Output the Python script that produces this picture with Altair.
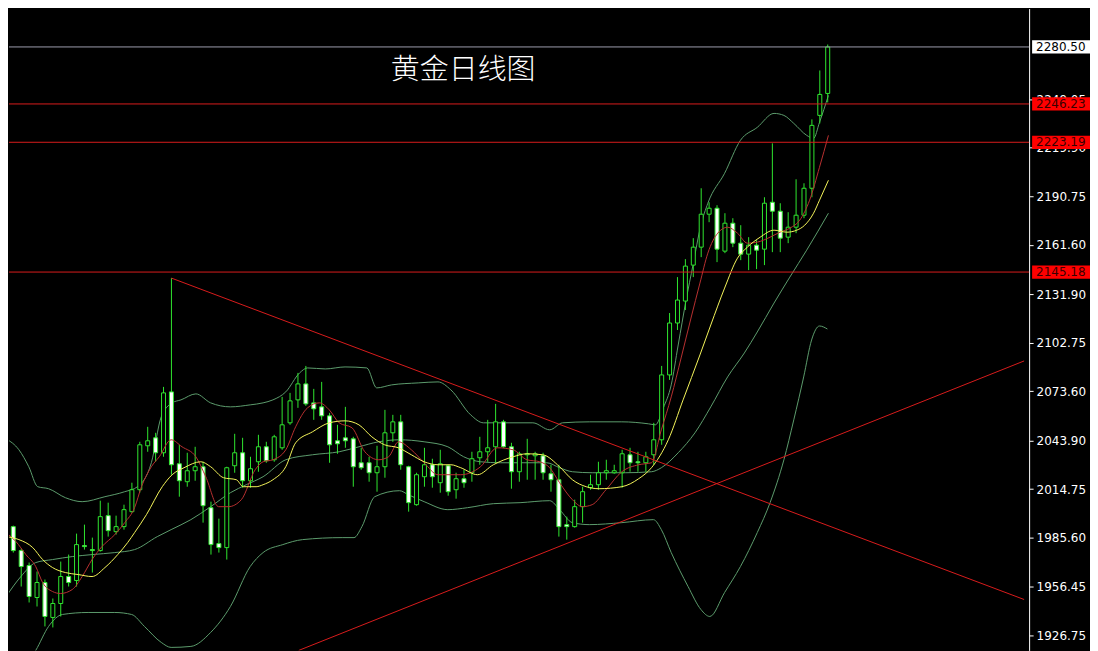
import altair as alt
import pandas as pd

# ---------------- data ----------------
CANDLE_IDX = list(range(-1, 104))
OPEN = [1992.15, 1992.15, 1977.75, 1968.75, 1949.55, 1958.55, 1937.55, 1945.95, 1962.15, 1959.75,
        1980.75, 1978.35, 1977.75, 1998.75, 1989.15, 1992.15, 2001.15, 2014.35, 2040.75, 2045.55,
        2036.55, 2073.15, 2029.95, 2019.15, 2025.75, 2028.15, 2003.55, 1981.95, 1979.55, 2028.75,
        2036.55, 2019.75, 2031.15, 2040.15, 2032.35, 2039.55, 2054.55, 2068.35, 2077.95, 2066.55,
        2064.15, 2058.75, 2043.75, 2045.55, 2044.95, 2030.55, 2030.55, 2024.55, 2028.15, 2048.55,
        2055.15, 2028.15, 2005.35, 2022.15, 2029.35, 2018.55, 2028.75, 2014.35, 2020.95, 2024.55,
        2033.55, 2037.15, 2040.15, 2055.15, 2040.15, 2025.15, 2035.35, 2034.75, 2034.75, 2023.95,
        2020.35, 1993.35, 1992.15, 2004.15, 2015.55, 2017.35, 2024.55, 2024.55, 2024.55, 2035.35,
        2031.15, 2030.55, 2035.35, 2044.35, 2083.35, 2114.55, 2127.75, 2149.35, 2160.15, 2179.95,
        2183.55, 2157.75, 2174.55, 2162.55, 2155.95, 2161.35, 2158.95, 2187.15, 2181.75, 2166.15,
        2172.15, 2179.35, 2195.55, 2239.35, 2252.55]
CLOSE = [1984.35, 1977.75, 1968.15, 1950.15, 1958.55, 1938.15, 1945.95, 1962.15, 1958.55, 1981.35,
         1980.15, 1977.75, 1998.15, 1989.75, 1992.15, 2002.35, 2014.35, 2041.35, 2043.75, 2036.55,
         2072.55, 2029.35, 2019.75, 2025.75, 2028.15, 2004.75, 1981.35, 1979.55, 2027.55, 2036.55,
         2019.75, 2026.95, 2040.15, 2031.75, 2046.15, 2053.35, 2067.75, 2077.95, 2065.95, 2062.95,
         2058.75, 2041.35, 2041.95, 2043.75, 2028.15, 2027.55, 2024.55, 2028.15, 2048.55, 2055.15,
         2029.35, 2006.55, 2023.35, 2029.35, 2022.15, 2029.95, 2013.15, 2020.95, 2018.55, 2032.95,
         2037.15, 2039.55, 2055.15, 2040.15, 2025.15, 2035.95, 2035.95, 2035.95, 2024.55, 2020.35,
         1992.15, 1992.15, 2004.15, 2013.15, 2017.35, 2024.55, 2025.75, 2025.75, 2035.95, 2030.55,
         2030.55, 2034.15, 2044.35, 2083.35, 2114.55, 2128.35, 2148.75, 2160.15, 2179.95, 2183.55,
         2158.95, 2174.55, 2162.55, 2155.95, 2161.35, 2158.35, 2186.55, 2181.75, 2165.55, 2172.15,
         2179.35, 2195.55, 2233.35, 2251.95, 2280.50]
HIGH = [1996.35, 1992.75, 1978.95, 1970.55, 1965.15, 1960.35, 1948.95, 1971.15, 1975.35, 1987.95,
        1993.35, 1985.55, 2007.75, 2006.55, 1998.75, 2005.35, 2018.55, 2043.15, 2052.15, 2048.55,
        2076.15, 2141.55, 2041.35, 2036.55, 2040.15, 2031.15, 2007.15, 1996.95, 2028.15, 2047.95,
        2045.55, 2034.15, 2047.35, 2043.15, 2047.35, 2070.15, 2072.55, 2084.55, 2088.75, 2074.95,
        2079.15, 2060.55, 2053.35, 2064.15, 2046.15, 2039.55, 2034.15, 2040.75, 2062.35, 2059.35,
        2059.35, 2028.75, 2024.55, 2039.55, 2032.95, 2038.35, 2029.35, 2024.55, 2026.35, 2037.15,
        2046.15, 2056.35, 2065.95, 2056.35, 2042.55, 2037.15, 2044.95, 2037.15, 2036.55, 2029.35,
        2029.35, 1998.15, 2008.35, 2016.15, 2023.35, 2031.15, 2032.35, 2029.35, 2038.35, 2039.55,
        2037.15, 2037.15, 2054.55, 2088.75, 2120.55, 2142.15, 2152.95, 2165.55, 2195.55, 2187.15,
        2185.35, 2180.55, 2177.55, 2173.35, 2166.15, 2164.35, 2190.15, 2222.55, 2186.55, 2181.15,
        2200.95, 2198.55, 2236.95, 2266.35, 2281.95]
LOW = [1981.35, 1976.55, 1956.15, 1946.55, 1944.15, 1932.15, 1931.55, 1938.15, 1956.15, 1956.15,
       1978.35, 1964.55, 1977.15, 1986.15, 1987.35, 1990.35, 2000.55, 2012.55, 2037.15, 2031.15,
       2034.15, 2023.35, 2010.15, 2016.15, 2019.75, 1994.55, 1975.35, 1976.55, 1972.35, 2024.55,
       2015.55, 2015.55, 2025.15, 2030.55, 2031.15, 2038.35, 2053.35, 2063.55, 2064.75, 2056.35,
       2056.35, 2030.55, 2035.95, 2039.55, 2016.15, 2026.35, 2019.15, 2013.15, 2021.55, 2043.15,
       2026.35, 2001.15, 2004.75, 2016.15, 2015.55, 2012.55, 2010.75, 2008.95, 2015.55, 2019.15,
       2029.35, 2031.15, 2030.55, 2039.55, 2014.95, 2019.15, 2020.35, 2020.35, 2020.35, 2013.15,
       1986.15, 1984.35, 1991.55, 1994.55, 2014.35, 2014.35, 2020.35, 2023.95, 2015.55, 2025.15,
       2025.15, 2025.15, 2029.35, 2041.35, 2080.35, 2110.35, 2122.35, 2142.15, 2154.15, 2175.15,
       2151.15, 2156.55, 2160.15, 2152.35, 2146.35, 2146.95, 2149.35, 2157.15, 2157.15, 2162.55,
       2168.55, 2177.55, 2190.15, 2234.55, 2247.15]

# fast moving average (red)
RED_MA_K = [-0.91, 0.34, 1.59, 2.84, 3.71, 4.96, 5.96, 7.46, 8.71, 9.96, 11.21, 12.84, 14.09, 15.34,
            16.21, 17.46, 18.46, 19.96, 21.34, 23.09, 24.34, 25.96, 27.21, 28.84, 30.59, 31.59, 32.84,
            34.46, 35.71, 37.21, 38.71, 39.96, 41.21, 42.84, 44.46, 46.21, 47.46, 48.71, 50.34, 51.96,
            53.71, 55.34, 56.59, 59.09, 61.21, 63.21, 64.96, 66.59, 67.84, 69.09, 70.71, 71.96, 73.21,
            74.96, 76.96, 79.09, 80.71, 81.96, 83.21, 84.46, 85.71, 86.84, 87.84, 89.09, 90.34, 91.59,
            92.84, 94.09, 95.71, 96.96, 98.21, 99.46, 100.71, 101.96, 103.09]
RED_MA_P = [1988.55, 1983.15, 1975.35, 1968.15, 1958.55, 1953.15, 1951.95, 1954.35, 1962.15, 1972.35,
            1980.15, 1987.35, 1994.55, 2003.55, 2016.15, 2028.15, 2034.15, 2044.35, 2040.15, 2034.15,
            2022.15, 2004.15, 2004.15, 2008.35, 2026.35, 2031.15, 2032.35, 2038.35, 2052.15, 2063.55,
            2066.55, 2062.35, 2054.55, 2051.55, 2037.15, 2032.35, 2034.15, 2043.15, 2038.35, 2030.55,
            2023.35, 2023.35, 2023.35, 2028.15, 2039.55, 2038.35, 2032.35, 2031.15, 2027.55, 2018.55,
            2008.35, 2004.15, 2005.35, 2014.35, 2025.15, 2029.35, 2030.55, 2050.35, 2070.15, 2093.55,
            2117.55, 2138.55, 2156.55, 2168.55, 2172.15, 2168.55, 2162.55, 2163.15, 2166.15, 2169.15,
            2171.55, 2176.35, 2188.35, 2208.15, 2227.35]

# slow moving average (yellow)
YEL_MA_K = [-0.91, 0.71, 2.46, 3.71, 4.96, 6.59, 8.21, 9.96, 11.59, 13.21, 14.46, 15.34, 16.84, 18.84,
            20.09, 21.59, 23.71, 24.96, 26.59, 28.21, 29.09, 30.71, 31.59, 32.84, 34.46, 35.71, 37.84,
            39.96, 41.96, 43.71, 45.34, 46.96, 48.71, 50.34, 51.96, 53.71, 55.34, 56.59, 58.71, 60.71,
            63.21, 64.96, 66.96, 69.09, 70.71, 72.46, 74.09, 76.96, 79.09, 80.71, 82.84, 84.71, 86.84,
            88.21, 89.96, 91.59, 92.84, 94.46, 96.21, 97.84, 99.09, 100.09, 101.21, 101.96, 103.09]
YEL_MA_P = [1986.15, 1984.35, 1979.55, 1972.35, 1967.55, 1964.55, 1963.35, 1962.15, 1967.55, 1975.35,
            1982.55, 1988.55, 1999.35, 2016.15, 2023.35, 2027.55, 2031.15, 2028.15, 2021.55, 2020.35,
            2016.15, 2016.15, 2017.35, 2020.35, 2028.15, 2042.55, 2049.15, 2054.55, 2055.75, 2053.35,
            2046.15, 2041.35, 2039.55, 2035.35, 2031.15, 2029.35, 2029.35, 2027.55, 2023.35, 2029.35,
            2034.15, 2035.95, 2035.35, 2028.15, 2020.35, 2016.15, 2014.95, 2016.15, 2020.95, 2027.55,
            2044.35, 2068.35, 2095.35, 2113.35, 2135.55, 2153.55, 2160.15, 2166.15, 2170.35, 2169.15,
            2170.35, 2173.35, 2180.55, 2188.35, 2200.35]

# Bollinger bands (grey-green)
BB_UP_K = [-0.91, 0.71, 1.96, 3.09, 4.46, 6.59, 8.71, 11.59, 14.09, 15.71, 17.46, 18.71, 20.09, 21.21,
           23.09, 24.96, 27.46, 29.96, 31.59, 32.84, 34.46, 36.21, 37.21, 39.46, 41.96, 44.71, 45.96,
           47.84, 51.21, 53.71, 55.34, 57.84, 59.46, 65.71, 67.84, 69.46, 72.84, 76.96, 80.34, 81.21,
           82.21, 83.21, 84.09, 85.09, 85.96, 86.96, 87.84, 89.96, 91.96, 94.09, 96.21, 97.46, 98.71,
           100.34, 101.21, 101.96, 103.09]
BB_UP_P = [2044.95, 2038.35, 2028.15, 2016.15, 2014.95, 2009.55, 2007.15, 2010.15, 2013.15, 2016.15,
           2030.55, 2058.15, 2066.55, 2068.35, 2071.95, 2066.55, 2064.15, 2065.35, 2066.55, 2068.35,
           2073.15, 2084.55, 2087.55, 2086.95, 2088.15, 2087.55, 2075.55, 2077.35, 2078.55, 2079.15,
           2074.35, 2059.35, 2054.55, 2054.55, 2050.35, 2054.55, 2055.15, 2055.15, 2053.95, 2053.35,
           2063.55, 2077.35, 2101.35, 2128.35, 2149.35, 2173.35, 2186.55, 2204.55, 2224.35, 2232.15,
           2240.55, 2239.35, 2234.55, 2227.35, 2225.55, 2235.15, 2251.35]
BB_MID_K = [-0.91, 0.96, 2.84, 4.96, 7.46, 9.96, 12.84, 15.34, 18.21, 19.96, 22.46, 24.96, 27.46, 29.46,
            31.59, 34.46, 37.84, 41.21, 43.71, 46.21, 48.84, 51.96, 54.96, 56.96, 59.09, 61.59, 67.46,
            69.09, 70.71, 73.21, 77.46, 80.71, 81.96, 84.09, 86.21, 88.21, 90.34, 92.46, 94.09, 96.21,
            98.21, 100.34, 103.09]
BB_MID_P = [1950.15, 1962.15, 1970.55, 1972.35, 1974.15, 1975.35, 1976.55, 1978.35, 1986.15, 1990.35,
            1996.35, 2004.15, 2012.55, 2017.35, 2022.15, 2032.35, 2035.35, 2037.15, 2040.15, 2043.15,
            2044.35, 2043.15, 2040.15, 2034.15, 2031.15, 2030.55, 2030.55, 2027.55, 2025.15, 2024.55,
            2024.55, 2025.15, 2027.55, 2036.55, 2048.55, 2064.15, 2082.15, 2096.55, 2109.15, 2126.55,
            2142.15, 2158.35, 2180.55]
BB_LOW_K = [0.96, 2.84, 4.46, 6.21, 9.46, 12.84, 14.96, 16.59, 18.71, 19.96, 22.46, 24.96, 27.46, 29.96,
            31.59, 34.09, 36.59, 41.59, 43.09, 44.09, 45.71, 48.84, 49.96, 51.96, 54.96, 57.46, 60.71,
            64.09, 67.84, 69.09, 70.71, 72.84, 76.96, 80.96, 81.96, 83.21, 85.34, 86.96, 88.09, 89.96,
            91.96, 94.09, 95.71, 97.46, 98.71, 99.96, 100.96, 101.96, 102.96]
BB_LOW_P = [1905.15, 1917.75, 1932.15, 1939.35, 1940.55, 1940.55, 1939.35, 1932.15, 1922.55, 1919.55,
            1920.15, 1928.55, 1944.15, 1968.15, 1976.55, 1981.35, 1984.35, 1985.55, 1985.55, 1992.15,
            2010.15, 2013.75, 2011.35, 2007.15, 2002.35, 2003.55, 2005.95, 2006.55, 2007.75, 2002.35,
            1994.55, 1993.35, 1994.55, 1996.35, 1990.35, 1976.55, 1956.15, 1942.35, 1938.15, 1952.55,
            1968.15, 1988.55, 2006.55, 2032.35, 2056.35, 2082.15, 2104.35, 2112.75, 2110.95]

# drawn objects
TREND_DOWN_K = [20, 127.84]
TREND_DOWN_P = [2141.55, 1948.35]
TREND_UP_K = [36.1, 127.84]
TREND_UP_P = [1917.75, 2091.75]
LEVELS = [2246.23, 2223.19, 2145.18]
LAST_PRICE = 2280.50
TICKS = [1926.75, 1956.45, 1985.60, 2014.75, 2043.90, 2073.60, 2102.75,
         2131.90, 2161.60, 2190.75, 2219.90, 2249.05]
TITLE = "黄金日线图"

# ---------------- styling ----------------
W, H = 1022, 643
XDOM = [0.0875, 127.84]
YDOM = [1917.75, 2303.55]
GREEN = "#2fe62f"
RED_OBJ = "#d81c1c"
RED_MA = "#b83030"
YELLOW = "#f4f45a"
BAND = "#5c9c6c"
FONT = "DejaVu Sans"
LABEL_SIZE = 12

xs = alt.Scale(domain=XDOM, nice=False, zero=False)
ys = alt.Scale(domain=YDOM, nice=False, zero=False)
YAX = alt.Axis(orient="right", values=TICKS, format=".2f", title=None,
               labelColor="white", labelFont=FONT, labelFontSize=LABEL_SIZE, labelPadding=3,
               tickColor="white", tickSize=4, domainColor="white", grid=False,
               labelOverlap=False, labelFlush=False)


def X(field):
    return alt.X(field, type="quantitative", scale=xs, axis=None)


def Y(field):
    return alt.Y(field, type="quantitative", scale=ys, axis=YAX)


candles = pd.DataFrame({"k": CANDLE_IDX, "o": OPEN, "h": HIGH, "l": LOW, "c": CLOSE})


def line_df(ks, ps):
    return pd.DataFrame({"k": ks, "p": ps})


wicks = alt.Chart(candles).mark_rule(color=GREEN, strokeWidth=1, clip=True).encode(
    x=X("k"), y=Y("l"), y2="h")
bodies = alt.Chart(candles).mark_bar(width=4, stroke=GREEN, strokeWidth=1, clip=True).encode(
    x=X("k"), y=Y("o"), y2="c",
    fill=alt.condition("datum.c < datum.o", alt.value("#ffffff"), alt.value("#000000")))


def series(ks, ps, color, width=1):
    return alt.Chart(line_df(ks, ps)).mark_line(
        color=color, strokeWidth=width, clip=True, interpolate="monotone").encode(
        x=X("k"), y=Y("p"))


bb_up = series(BB_UP_K, BB_UP_P, BAND)
bb_mid = series(BB_MID_K, BB_MID_P, BAND)
bb_low = series(BB_LOW_K, BB_LOW_P, BAND)
ma_red = series(RED_MA_K, RED_MA_P, RED_MA)
ma_yel = series(YEL_MA_K, YEL_MA_P, YELLOW)

trend_down = alt.Chart(line_df(TREND_DOWN_K, TREND_DOWN_P)).mark_line(
    color=RED_OBJ, strokeWidth=1, clip=True).encode(x=X("k"), y=Y("p"))
trend_up = alt.Chart(line_df(TREND_UP_K, TREND_UP_P)).mark_line(
    color=RED_OBJ, strokeWidth=1, clip=True).encode(x=X("k"), y=Y("p"))

lev_df = pd.DataFrame({"p": LEVELS, "lab": [f"{v:.2f}" for v in LEVELS]})
last_df = pd.DataFrame({"p": [LAST_PRICE], "lab": [f"{LAST_PRICE:.2f}"]})

lev_rules = alt.Chart(lev_df).mark_rule(color=RED_OBJ, strokeWidth=1).encode(y=Y("p"))
last_rule = alt.Chart(last_df).mark_rule(color="#9c9cac", strokeWidth=1).encode(y=Y("p"))

BOX_HALF = 4.0  # half box height in price units (~6.7 px)


def price_box(df, fill, text_color):
    base = alt.Chart(df).transform_calculate(
        top=f"datum.p + {BOX_HALF}", bot=f"datum.p - {BOX_HALF}")
    box = base.mark_rect(fill=fill).encode(
        x=alt.value(W + 3), x2=alt.value(W + 61), y=Y("top:Q"), y2="bot:Q")
    txt = alt.Chart(df).mark_text(
        color=text_color, font=FONT, fontSize=LABEL_SIZE, align="left", baseline="middle").encode(
        x=alt.value(W + 7), y=Y("p"), text="lab:N")
    return box + txt


lev_boxes = price_box(lev_df, "#ff0000", "#3a0000")
last_box = price_box(last_df, "#ffffff", "#000000")

title = alt.Chart(pd.DataFrame({"t": [TITLE]})).mark_text(
    color="white", font="Noto Sans CJK SC", fontSize=29, fontWeight=300,
    align="center", baseline="middle").encode(
    x=alt.value(455), y=alt.value(62), text="t:N")

chart = alt.layer(
    bb_up, bb_mid, bb_low, wicks, bodies, ma_red, ma_yel,
    trend_down, trend_up, lev_rules, last_rule, lev_boxes, last_box, title
).properties(
    width=W, height=H, padding=0, background="#000000"
).configure_view(strokeWidth=0, fill="#000000")

chart.save("out.html", embed_options={"renderer": "svg", "actions": False})
